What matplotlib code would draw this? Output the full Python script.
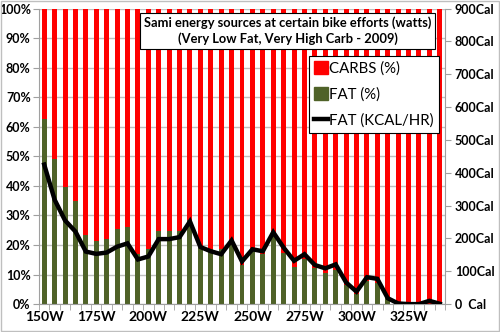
import numpy as np
import matplotlib
matplotlib.use('Agg')
import matplotlib.pyplot as plt
from matplotlib.patches import Rectangle, Patch
from matplotlib.lines import Line2D

plt.rcParams['font.family'] = ['Lato', 'DejaVu Sans']

watts = list(range(150, 345, 5))
fat_pct = [62.5, 49, 39.5, 35, 23.4, 21.5, 22, 25.3, 26, 17,
           18.7, 24.8, 24.8, 24.6, 28.5, 19.5, 18.7, 18.5, 21.7, 13.2,
           18.5, 17, 23, 17.4, 12.7, 15.2, 12.1, 10.6, 11.6, 6.5,
           3.4, 7.9, 7, 2.5, 0, 0, 0, 0, 0]
fat_kcal = [425, 318, 255, 221, 160, 153, 157, 175, 185, 136,
            145, 198, 198, 204, 252, 174, 161, 152, 194, 130,
            167, 161, 219, 172, 132, 152, 119, 109, 121, 66,
            38, 82, 77, 18, 2, 0, 0, 10, 1]
carb_pct = [100 - f for f in fat_pct]

x = np.arange(len(watts))
tick_idx = x[::5]
tick_labels = [f"{watts[i]}W" for i in tick_idx]

fig = plt.figure(figsize=(5, 3.32), dpi=100)
ax = fig.add_axes([0.078, 0.084, 0.812, 0.890])

ax.bar(x, fat_pct, width=0.48, color='#4f6228', zorder=2, label='FAT (%)')
ax.bar(x, carb_pct, width=0.48, bottom=fat_pct, color='#ff0000', zorder=2, label='CARBS (%)')

ax.set_xlim(-0.5, len(watts) - 0.5)
ax.set_ylim(0, 100)
ax.set_yticks(np.arange(0, 101, 10))
ax.set_yticklabels([f"{v}%" for v in range(0, 101, 10)], fontweight='bold', fontsize=9)
ax.set_xticks(tick_idx)
ax.set_xticklabels(tick_labels, fontweight='bold', fontsize=10)
ax.set_xticks(np.arange(-0.5, len(watts), 1), minor=True)
ax.tick_params(axis='x', which='major', length=0, pad=5)
ax.tick_params(axis='x', which='minor', length=4, color='#a0a0a0')
ax.tick_params(axis='y', length=4, color='#a0a0a0', pad=2)
ax.yaxis.grid(True, color='#c0c0c0', linewidth=1.0, zorder=0)
ax.set_axisbelow(True)
for s in ['top', 'right']:
    ax.spines[s].set_visible(False)
for s in ['left', 'bottom']:
    ax.spines[s].set_color('#a0a0a0')

ax2 = ax.twinx()
ax2.plot(x, fat_kcal, color='black', linewidth=3.2, solid_joinstyle='miter', zorder=3)
ax2.set_ylim(0, 900)
ax2.set_yticks(np.arange(0, 901, 100))
ax2.set_yticklabels(["0  Cal"] + [f"{v}Cal" for v in range(100, 901, 100)], fontweight='bold', fontsize=9)
ax2.tick_params(axis='y', length=4, color='#a0a0a0', pad=3)
for s in ['top', 'left', 'bottom']:
    ax2.spines[s].set_visible(False)
ax2.spines['right'].set_color('#a0a0a0')

ax2.text(0.612, 0.925, "Sami energy sources at certain bike efforts (watts)\n(Very Low Fat, Very High Carb - 2009)",
         transform=ax.transAxes, ha='center', va='center', fontsize=9.3, fontweight='bold',
         multialignment='center', linespacing=1.3,
         bbox=dict(boxstyle='square,pad=0.3', facecolor='white', edgecolor='black', linewidth=0.8),
         zorder=5)

handles = [Patch(color='#ff0000'), Patch(color='#4f6228'), Line2D([0], [0], color='black', linewidth=3.2)]
leg = ax2.legend(handles, ['CARBS (%)', 'FAT (%)', 'FAT (KCAL/HR)'],
                 loc='upper right', bbox_to_anchor=(0.985, 0.84), fontsize=10.8,
                 frameon=True, fancybox=False, edgecolor='black', framealpha=1,
                 handlelength=0.9, handleheight=0.9, handletextpad=0.1,
                 labelspacing=0.78, borderpad=0.35, borderaxespad=0)
leg.get_frame().set_linewidth(0.8)
leg.set_zorder(6)

fig.patches.append(Rectangle((0.002, 0.003), 0.996, 0.994, transform=fig.transFigure,
                             fill=False, edgecolor='#bfbfbf', linewidth=1.0))

fig.savefig('out.png', dpi=100)
